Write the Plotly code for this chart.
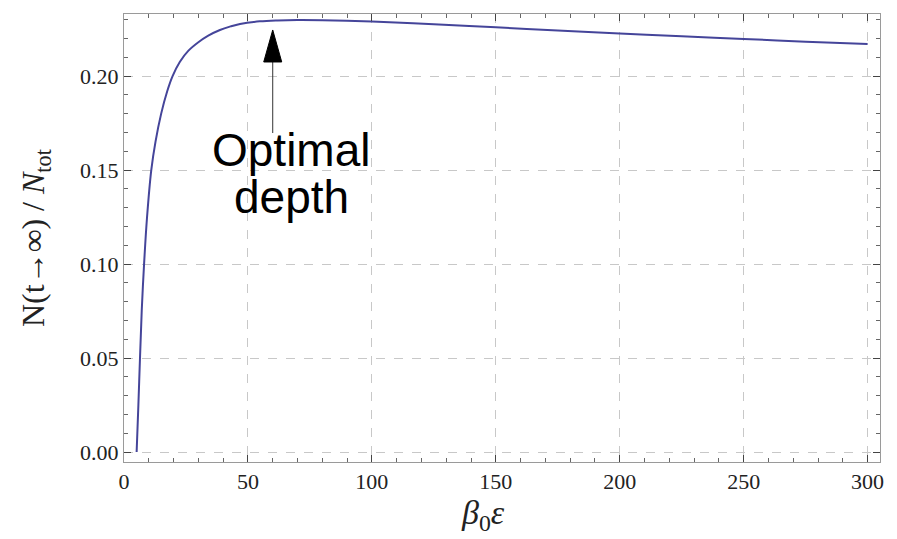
import plotly.graph_objects as go

# Steady-state fraction vs. trap depth
depth = [5.1, 5.8, 6.45, 7.15, 8.1, 9.3, 11.0, 12.7, 15.0, 17.4, 19.6, 22.5,
         26.0, 30.0, 34.0, 38.7, 43.0, 46.8, 54.8, 62.0, 70.0, 80.0,
         100.0, 125.0, 150.0, 175.0, 200.0, 225.0, 250.0, 275.0, 300.0]
fraction = [0.0, 0.025, 0.05, 0.075, 0.10, 0.125, 0.15, 0.165, 0.1800, 0.1918,
            0.200, 0.2075, 0.2135, 0.2180, 0.2215, 0.2245, 0.2264,
            0.2277, 0.2291, 0.2296, 0.2298, 0.2297, 0.2290, 0.2275, 0.2259,
            0.2242, 0.2226, 0.2211, 0.2197, 0.2183, 0.2170]

x_ticks = [0, 50, 100, 150, 200, 250, 300]
y_ticks = [0.00, 0.05, 0.10, 0.15, 0.20]
y_tick_text = ["0.00", "0.05", "0.10", "0.15", "0.20"]

optimal_depth = 60
arrow_tip = 0.2245
arrow_base = 0.1697

serif = "Liberation Serif, Times New Roman, serif"
sans = "Liberation Sans, Arial, sans-serif"

fig = go.Figure()
fig.add_trace(go.Scatter(
    x=depth, y=fraction, mode="lines",
    line=dict(color="#45459a", width=2, shape="spline", smoothing=1.0),
    showlegend=False, hoverinfo="skip",
))

axis_common = dict(
    showline=True, linecolor="#9a9a9a", linewidth=1, mirror="ticks",
    ticks="inside", ticklen=7, tickwidth=1, tickcolor="#444",
    showgrid=True, gridcolor="#c8c8c8", griddash="dash", gridwidth=1,
    zeroline=False,
    tickfont=dict(family=serif, size=22, color="#222"),
)

fig.update_xaxes(
    range=[0, 305], tickvals=x_ticks,
    minor=dict(dtick=10, tick0=0, ticks="inside", ticklen=4, tickcolor="#666",
               showgrid=False),
    **axis_common,
)
fig.update_yaxes(
    range=[-0.0053, 0.233], tickvals=y_ticks, ticktext=y_tick_text,
    minor=dict(dtick=0.01, tick0=0, ticks="inside", ticklen=4, tickcolor="#666",
               showgrid=False),
    **axis_common,
)

# Arrow marking the optimal depth
fig.add_shape(type="line", xref="x", yref="y",
              x0=optimal_depth, x1=optimal_depth, y0=arrow_base, y1=arrow_tip - 0.015,
              line=dict(color="#333", width=1))
fig.add_shape(type="path", xref="x", yref="y",
              xsizemode="pixel", ysizemode="pixel",
              xanchor=optimal_depth, yanchor=arrow_tip,
              path="M 0 0 L -9 -32 L 9 -32 Z",
              fillcolor="black", line=dict(color="black", width=1))

fig.add_annotation(x=(291 - 124) / 756, y=(462 - 178) / 448, xref="paper", yref="paper",
                   text="Optimal", showarrow=False, xanchor="center", yanchor="bottom",
                   font=dict(family=sans, size=46, color="black"))
fig.add_annotation(x=(291 - 124) / 756, y=(462 - 225) / 448, xref="paper", yref="paper",
                   text="depth", showarrow=False, xanchor="center", yanchor="bottom",
                   font=dict(family=sans, size=46, color="black"))

# Axis titles
fig.add_annotation(x=(35 - 124) / 756, y=0.5, xref="paper", yref="paper",
                   text="N(t→∞) / <i>N</i><sub>tot</sub>", textangle=-90,
                   showarrow=False, xanchor="center", yanchor="middle",
                   font=dict(family=serif, size=32, color="#222"))
fig.add_annotation(x=(483 - 124) / 756, y=(462 - 515) / 448, xref="paper", yref="paper",
                   text="<i>β</i><sub>0</sub><i>ε</i>",
                   showarrow=False, xanchor="center", yanchor="middle",
                   font=dict(family=serif, size=34, color="#222"))

fig.update_layout(
    width=897, height=539,
    margin=dict(l=124, r=17, t=14, b=77),
    plot_bgcolor="white", paper_bgcolor="white",
)

fig.write_html("out.html")
